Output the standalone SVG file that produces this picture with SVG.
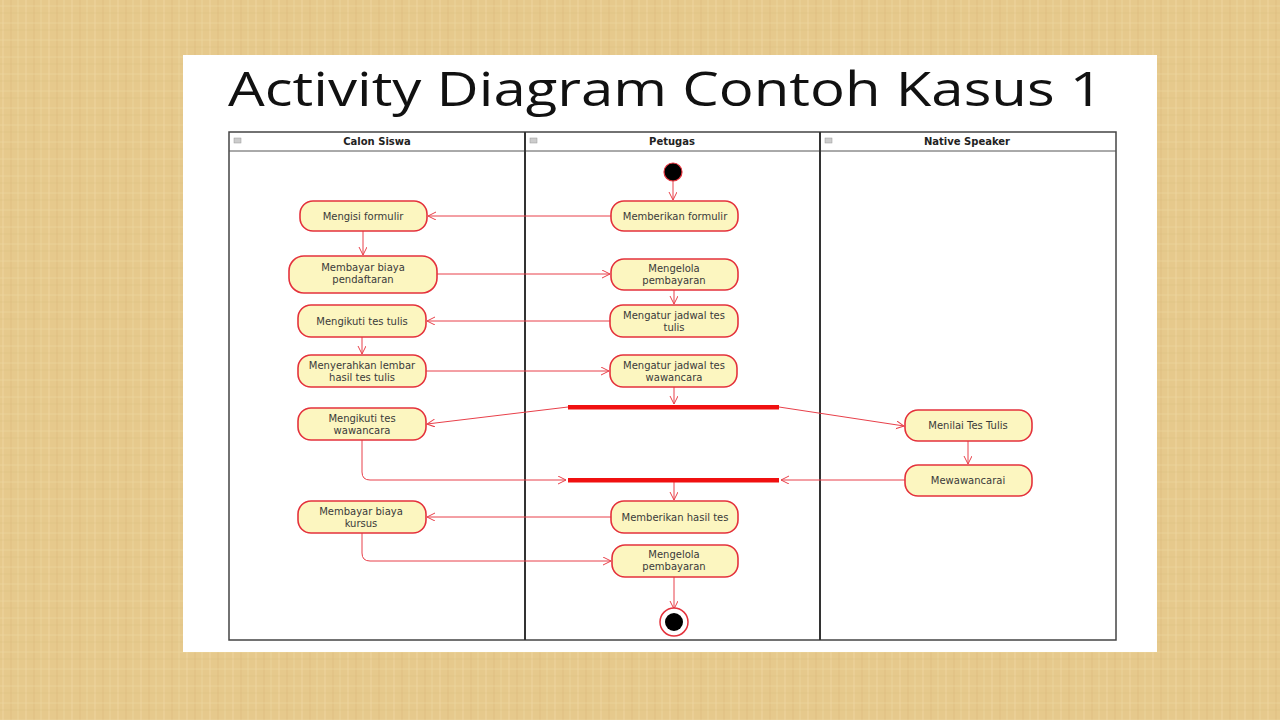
<svg xmlns="http://www.w3.org/2000/svg" width="1280" height="720" viewBox="0 0 1280 720">
<defs>
<pattern id="tex" width="23" height="17" patternUnits="userSpaceOnUse">
<rect width="23" height="17" fill="#E6C98C"/>
<line x1="3" y1="0" x2="3" y2="17" stroke="#F2DCA8" stroke-width="1" opacity="0.6"/>
<line x1="11" y1="0" x2="11" y2="17" stroke="#D8B878" stroke-width="1.5" opacity="0.35"/>
<line x1="18" y1="0" x2="18" y2="17" stroke="#F0DAA6" stroke-width="1" opacity="0.5"/>
<line x1="0" y1="6" x2="23" y2="6" stroke="#F0D9A4" stroke-width="1" opacity="0.5"/>
<line x1="0" y1="13" x2="23" y2="13" stroke="#D9BC7E" stroke-width="1" opacity="0.35"/>
</pattern>
<marker id="arr" markerWidth="10" markerHeight="10" refX="8" refY="4" orient="auto" markerUnits="userSpaceOnUse">
<path d="M0,0 L8,4 L0,8" fill="none" stroke="#E8404A" stroke-width="1"/>
</marker>
<style>
.act rect{fill:#FCF6C0;stroke:#E4323C;stroke-width:1.6}
.act text{font-family:"DejaVu Sans",Verdana,sans-serif;font-size:10px;fill:#3a3a3a;text-anchor:middle}
.lane{font-family:"DejaVu Sans",Verdana,sans-serif;font-size:10px;font-weight:bold;fill:#222;text-anchor:middle}
.con path{fill:none;stroke:#E8404A;stroke-width:1;marker-end:url(#arr)}
.bar{fill:#F01010}
</style>
</defs>
<rect width="1280" height="720" fill="url(#tex)"/>
<rect x="183" y="55" width="974" height="597" fill="#FFFFFF"/>
<text x="228" y="106" font-family="'Open Sans','DejaVu Sans',sans-serif" font-size="47" fill="#111" textLength="875" lengthAdjust="spacingAndGlyphs">Activity Diagram Contoh Kasus 1</text>

<g id="swimlanes">
<rect x="229" y="132" width="887" height="508" fill="#FFFFFF" stroke="#444" stroke-width="1.5"/>
<line x1="229" y1="151" x2="1116" y2="151" stroke="#555" stroke-width="1"/>
<line x1="525" y1="132" x2="525" y2="640" stroke="#333" stroke-width="2"/>
<line x1="820" y1="132" x2="820" y2="640" stroke="#333" stroke-width="2"/>
<rect x="234" y="138" width="7" height="5" fill="#ccc" stroke="#999" stroke-width="0.5"/>
<rect x="530" y="138" width="7" height="5" fill="#ccc" stroke="#999" stroke-width="0.5"/>
<rect x="825" y="138" width="7" height="5" fill="#ccc" stroke="#999" stroke-width="0.5"/>
<text class="lane" x="377" y="145">Calon Siswa</text>
<text class="lane" x="672" y="145">Petugas</text>
<text class="lane" x="967" y="145">Native Speaker</text>
</g>

<g id="connectors" class="con">
<path d="M673,181 L673,200"/>
<path d="M611,216 L428,216"/>
<path d="M363,231 L363,255"/>
<path d="M437,274 L610,274"/>
<path d="M674,290 L674,304"/>
<path d="M610,321 L427,321"/>
<path d="M362,337 L362,354"/>
<path d="M426,371 L609,371"/>
<path d="M674,387 L674,404"/>
<path d="M568,407 L427,424"/>
<path d="M779,407 L904,426"/>
<path d="M968,441 L968,464"/>
<path d="M905,480 L781,480"/>
<path d="M362,440 L362,472 Q362,480 370,480 L566,480"/>
<path d="M674,482 L674,500"/>
<path d="M611,517 L427,517"/>
<path d="M362,533 L362,553 Q362,561 370,561 L611,561"/>
<path d="M674,577 L674,609"/>
</g>

<g id="start"><circle cx="673" cy="172" r="9" fill="#000" stroke="#E4323C" stroke-width="1.2"/></g>
<g id="end"><circle cx="674" cy="622" r="14" fill="#fff" stroke="#E4323C" stroke-width="1.5"/><circle cx="674" cy="622" r="9" fill="#000"/></g>
<g id="fork"><rect class="bar" x="568" y="405" width="211" height="4.5"/></g>
<g id="join"><rect class="bar" x="568" y="478" width="211" height="4.5"/></g>

<g id="mengisi" class="act"><rect x="300" y="201" width="127" height="30" rx="13"/><text x="363" y="220">Mengisi formulir</text></g>
<g id="membayar1" class="act"><rect x="289" y="256" width="148" height="37" rx="15"/><text x="363" y="271">Membayar biaya</text><text x="363" y="283">pendaftaran</text></g>
<g id="mengikuti1" class="act"><rect x="298" y="305" width="128" height="32" rx="13"/><text x="362" y="325">Mengikuti tes tulis</text></g>
<g id="menyerahkan" class="act"><rect x="298" y="355" width="128" height="32" rx="13"/><text x="362" y="369">Menyerahkan lembar</text><text x="362" y="381">hasil tes tulis</text></g>
<g id="mengikuti2" class="act"><rect x="298" y="408" width="128" height="32" rx="13"/><text x="362" y="422">Mengikuti tes</text><text x="362" y="434">wawancara</text></g>
<g id="membayar2" class="act"><rect x="298" y="501" width="128" height="32" rx="13"/><text x="361" y="515">Membayar biaya</text><text x="361" y="527">kursus</text></g>

<g id="memberikan1" class="act"><rect x="611" y="201" width="127" height="30" rx="13"/><text x="675" y="220">Memberikan formulir</text></g>
<g id="mengelola1" class="act"><rect x="611" y="259" width="127" height="31" rx="13"/><text x="674" y="272">Mengelola</text><text x="674" y="284">pembayaran</text></g>
<g id="jadwal1" class="act"><rect x="610" y="305" width="128" height="32" rx="13"/><text x="674" y="319">Mengatur jadwal tes</text><text x="674" y="331">tulis</text></g>
<g id="jadwal2" class="act"><rect x="610" y="355" width="127" height="32" rx="13"/><text x="674" y="369">Mengatur jadwal tes</text><text x="674" y="381">wawancara</text></g>
<g id="hasil" class="act"><rect x="611" y="501" width="127" height="32" rx="13"/><text x="675" y="521">Memberikan hasil tes</text></g>
<g id="mengelola2" class="act"><rect x="612" y="545" width="126" height="32" rx="13"/><text x="674" y="558">Mengelola</text><text x="674" y="570">pembayaran</text></g>

<g id="menilai" class="act"><rect x="905" y="410" width="127" height="31" rx="13"/><text x="968" y="429">Menilai Tes Tulis</text></g>
<g id="mewawancarai" class="act"><rect x="905" y="465" width="127" height="31" rx="13"/><text x="968" y="484">Mewawancarai</text></g>
</svg>
